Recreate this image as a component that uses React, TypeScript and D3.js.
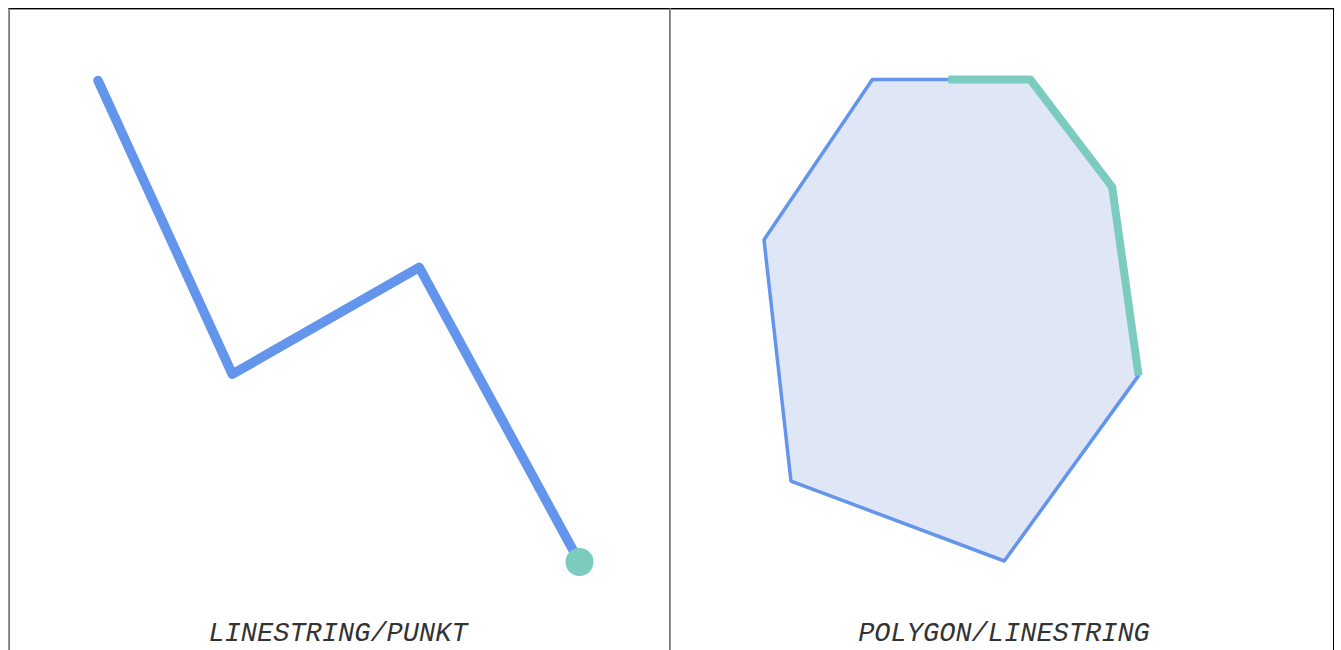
import React from "react";
import * as d3 from "d3";

// Left panel: a LINESTRING ending in a POINT (data units)
const lineStringPoints: [number, number][] = [
  [0, 10],
  [2.79, 3.9],
  [6.67, 6.12],
  [10, 0],
];
const pointCoord: [number, number] = [10, 0];

// Right panel: a POLYGON with an overlapping LINESTRING on part of its boundary
const polygonPoints: [number, number][] = [
  [2.25, 10],
  [5.53, 10],
  [7.23, 7.77],
  [7.78, 3.85],
  [4.99, 0],
  [0.56, 1.66],
  [0, 6.67],
];
const overlayLine: [number, number][] = [
  [3.83, 10],
  [5.53, 10],
  [7.23, 7.77],
  [7.78, 3.85],
];

const panelLabels = ["LINESTRING/PUNKT", "POLYGON/LINESTRING"];

const W = 1341;
const H = 650;
const BLUE = "#6495ED";
const GREEN = "#7CCBBF";
const FILL = "#dfe6f5";

export default function App() {
  const unit = 48.15;
  const lx = d3.scaleLinear().domain([0, 10]).range([98, 98 + 10 * unit]);
  const ly = d3.scaleLinear().domain([0, 10]).range([562, 562 - 10 * unit]);
  const rx = d3.scaleLinear().domain([0, 10]).range([764, 764 + 10 * unit]);
  const ry = d3.scaleLinear().domain([0, 10]).range([561, 561 - 10 * unit]);

  const lineL = d3
    .line<[number, number]>()
    .x((d) => lx(d[0]))
    .y((d) => ly(d[1]));
  const lineR = d3
    .line<[number, number]>()
    .x((d) => rx(d[0]))
    .y((d) => ry(d[1]));

  const left = 8;
  const mid = 669.5;
  const right = 1333.5;
  const top = 8.5;

  return (
    <svg
      width={W}
      height={H}
      style={{ position: "absolute", left: 0, top: 0, display: "block" }}
    >
      <rect x={0} y={0} width={W} height={H} fill="#fff" />
      {/* frame */}
      <line x1={left} x2={right + 0.5} y1={top} y2={top} stroke="#000" strokeWidth={1} />
      <line x1={left} x2={right} y1={top + 1} y2={top + 1} stroke="#999" strokeWidth={1} />
      <line x1={left + 0.5} x2={left + 0.5} y1={top} y2={H} stroke="#999" strokeWidth={1} />
      <line x1={left + 1.5} x2={left + 1.5} y1={top} y2={H} stroke="#777" strokeWidth={1} />
      <line x1={mid} x2={mid} y1={top} y2={H} stroke="#777" strokeWidth={1} />
      <line x1={mid + 1} x2={mid + 1} y1={top} y2={H} stroke="#999" strokeWidth={1} />
      <line x1={right} x2={right} y1={top} y2={H} stroke="#000" strokeWidth={1} />

      {/* left panel */}
      <path
        d={lineL(lineStringPoints) || ""}
        fill="none"
        stroke={BLUE}
        strokeWidth={9.5}
        strokeLinecap="round"
        strokeLinejoin="round"
      />
      <circle cx={lx(pointCoord[0])} cy={ly(pointCoord[1])} r={14} fill={GREEN} />

      {/* right panel */}
      <path
        d={(lineR(polygonPoints) || "") + "Z"}
        fill={FILL}
        stroke={BLUE}
        strokeWidth={3.5}
        strokeLinejoin="round"
      />
      <path
        d={lineR(overlayLine) || ""}
        fill="none"
        stroke={GREEN}
        strokeWidth={8}
        strokeLinejoin="round"
      />

      {panelLabels.map((t, i) => (
        <text
          key={t}
          x={i === 0 ? 338 : 1004}
          y={641}
          textAnchor="middle"
          fontFamily="'Courier New', Courier, 'Nimbus Mono PS', 'Nimbus Mono L', FreeMono, 'Liberation Mono', monospace"
          fontStyle="italic"
          fontSize={27}
          fill="#333"
        >
          {t}
        </text>
      ))}
    </svg>
  );
}
